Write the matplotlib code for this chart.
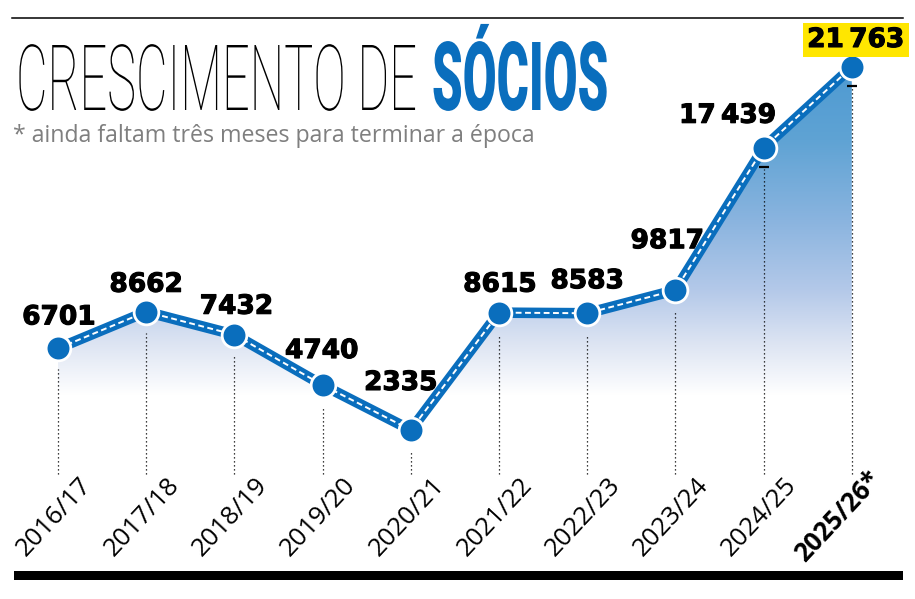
import numpy as np
import matplotlib
matplotlib.use("Agg")
import matplotlib.pyplot as plt
from matplotlib import font_manager as fm
from matplotlib.patheffects import AbstractPathEffect, withStroke
from matplotlib.transforms import Affine2D, blended_transform_factory, offset_copy
from matplotlib.lines import Line2D
from matplotlib.patches import Rectangle
from matplotlib.textpath import TextPath
from matplotlib.font_manager import FontProperties

# ---------------- data ----------------
seasons = ["2016/17", "2017/18", "2018/19", "2019/20", "2020/21",
           "2021/22", "2022/23", "2023/24", "2024/25", "2025/26*"]
socios = [6701, 8662, 7432, 4740, 2335, 8615, 8583, 9817, 17439, 21763]
value_labels = ["6701", "8662", "7432", "4740", "2335", "8615", "8583",
                "9817", "17\u2009439", "21\u2009763"]
title_light = "CRESCIMENTO DE"
title_bold = "SÓCIOS"
subtitle = "* ainda faltam três meses para terminar a época"

# ---------------- style / layout ----------------
W_PX, H_PX, DPI = 915, 599, 100
BLUE = "#0A6EBD"
X0_PX, DX_PX = 58.0, 88.2          # pixel of first category, pixel spacing
Y0_PX, PPU = 473.6, 0.018684        # pixel row of value 0, pixels per unit
LABEL_OFFSETS = [(1, 24), (0, 20), (2, 21), (-1, 27), (-10, 40),
                 (1, 21), (0, 25), (-8, 42), (-36, 25), (4, 20)]

_WMAP = {'thin': 100, 'extralight': 200, 'ultralight': 200, 'light': 300,
         'normal': 400, 'regular': 400, 'book': 400, 'medium': 500,
         'semibold': 600, 'demibold': 600, 'bold': 700, 'extrabold': 800,
         'ultrabold': 800, 'heavy': 900, 'black': 900}


def _wnum(w):
    if isinstance(w, (int, float)):
        return int(w)
    return _WMAP.get(str(w).lower(), 400)


FONTS = {}
for f in fm.fontManager.ttflist:
    if f.style != 'normal' or f.stretch not in ('normal', 'medium', 500):
        continue
    FONTS.setdefault(f.name, set()).add(_wnum(f.weight))


def pick(cands, want):
    for c in cands:
        if c in FONTS:
            ws = FONTS[c]
            return c, (min(ws) if want == 'min' else max(ws))
    return 'DejaVu Sans', 400


thin_family, thin_weight = pick(['Roboto', 'Lato', 'Inter', 'Open Sans', 'DejaVu Sans'], 'min')
heavy_family, heavy_weight = pick(['Roboto', 'Lato', 'Inter', 'Noto Sans', 'Open Sans', 'DejaVu Sans'], 'max')
narrow_family = 'Liberation Sans Narrow' if 'Liberation Sans Narrow' in FONTS else 'Open Sans'
tick_family = 'Open Sans' if 'Open Sans' in FONTS else 'DejaVu Sans'


class VStretch(AbstractPathEffect):
    """Stretch glyphs vertically about their baseline origin."""
    def __init__(self, sy=1.0):
        super().__init__()
        self.sy = sy

    def draw_path(self, renderer, gc, tpath, affine, rgbFace=None):
        ox, oy = affine.transform((0.0, 0.0))
        tr = affine + Affine2D().translate(-ox, -oy).scale(1.0, self.sy).translate(ox, oy)
        renderer.draw_path(gc, tpath, tr, rgbFace)


def fx(px):
    return px / W_PX


def fy(py):
    return 1.0 - py / H_PX


fig = plt.figure(figsize=(W_PX / DPI, H_PX / DPI), dpi=DPI)
fig.patch.set_facecolor('white')
ax = fig.add_axes([0, 0, 1, 1])
ax.set_axis_off()
ax.set_xlim(-X0_PX / DX_PX, (W_PX - X0_PX) / DX_PX)
ax.set_ylim((Y0_PX - H_PX) / PPU, Y0_PX / PPU)

x = np.arange(len(socios))
y = np.array(socios, dtype=float)

# ---------------- gradient fill ----------------
stops_px = np.array([67, 140, 220, 290, 345, 395, 600], dtype=float)
stops_rgb = np.array([(78, 154, 210), (95, 163, 212), (138, 180, 223),
                      (180, 201, 233), (222, 229, 243), (255, 255, 255),
                      (255, 255, 255)], dtype=float) / 255.0
ytop = y.max()
rows = 400
vals = np.linspace(ytop, 0, rows)
pys = Y0_PX - vals * PPU
grad = np.zeros((rows, 1, 3))
for c in range(3):
    grad[:, 0, c] = np.interp(pys, stops_px, stops_rgb[:, c])
poly = ax.fill_between(x, y, 0, color='none', lw=0)
im = ax.imshow(grad, extent=[x[0], x[-1], 0, ytop], aspect='auto',
               origin='upper', zorder=1, interpolation='bilinear')
im.set_clip_path(poly.get_paths()[0], transform=ax.transData)

# ---------------- dotted drop lines ----------------
gap_units = 21 / PPU
for xi, yi in zip(x, y):
    ax.plot([xi, xi], [0, yi - gap_units], color='black', lw=0.9,
            ls=(0, (1, 2.2)), zorder=2)
tick_tr = offset_copy(ax.transData, fig=fig, x=0, y=-19, units='dots')
ax.plot(x[-2:], y[-2:], ls='none', marker='_', ms=7, mew=1.6,
        color='black', transform=tick_tr, zorder=2)

# ---------------- main line ----------------
ax.plot(x, y, color=BLUE, lw=7.6, solid_joinstyle='miter', zorder=3)
ax.plot(x, y, color='white', lw=1.4, dashes=(3.0, 1.8), zorder=4)
ax.plot(x, y, ls='none', marker='o', ms=17.8, mfc=BLUE, mec='white',
        mew=2.0, zorder=5)

# ---------------- value labels ----------------
for i, (xi, yi, lab) in enumerate(zip(x, y, value_labels)):
    dx, dy = LABEL_OFFSETS[i]
    kw = {}
    if i == len(socios) - 1:
        kw['bbox'] = dict(boxstyle='square,pad=0.16', fc='#FFE600', ec='none')
    ax.annotate(lab, (xi, yi), xytext=(dx, dy), textcoords='offset pixels',
                ha='center', va='baseline', fontsize=19,
                family='DejaVu Sans', fontweight='bold', color='black',
                path_effects=[withStroke(linewidth=0.8, foreground='black')],
                zorder=6, annotation_clip=False, **kw)

# ---------------- season labels ----------------
lab_tr = blended_transform_factory(ax.transData, ax.transAxes)
for i, (xi, s) in enumerate(zip(x, seasons)):
    last = i == len(seasons) - 1
    ax.annotate(s, (xi, fy(517)), xycoords=lab_tr,
                xytext=(-14 if last else -4, 0), textcoords='offset pixels',
                ha='center', va='center', rotation=47, fontsize=18.5,
                family=tick_family, fontweight='bold' if last else 'normal',
                color='black', annotation_clip=False)

# ---------------- title / subtitle ----------------
renderer = fig.canvas.get_renderer()


def fit_width(t, target_w):
    fs = t.get_fontsize()
    w = t.get_window_extent(renderer).width
    t.set_fontsize(fs * target_w / w)


def cap_px(t, ch):
    fp = FontProperties(family=t.get_fontfamily(), weight=t.get_fontweight(),
                        size=t.get_fontsize())
    tp = TextPath((0, 0), ch, prop=fp, size=t.get_fontsize())
    return tp.get_extents().height * DPI / 72.0


t1 = fig.text(fx(16), fy(110), title_light, ha='left', va='baseline',
              family=thin_family, fontweight=thin_weight, fontsize=40,
              color='black')
fit_width(t1, 400)
t1.set_path_effects([VStretch(65.0 / cap_px(t1, 'E'))])

t2 = fig.text(fx(432), fy(110), title_bold, ha='left', va='baseline',
              family=heavy_family, fontweight=heavy_weight, fontsize=40,
              color=BLUE)
fit_width(t2, 176)
t2.set_path_effects([VStretch(68.0 / cap_px(t2, 'I'))])

t3 = fig.text(fx(13), fy(142), subtitle, ha='left', va='baseline',
              family=narrow_family, fontsize=18, color='#7F7F7F')
fit_width(t3, 523)

# ---------------- rules ----------------
fig.add_artist(Line2D([fx(12), fx(903)], [fy(18), fy(18)], color='black', lw=1.1))
fig.add_artist(Rectangle((fx(14), fy(580)), fx(903) - fx(14), fy(571) - fy(580),
                         transform=fig.transFigure, color='black', lw=0))

fig.savefig('out.png', dpi=DPI, facecolor='white')
